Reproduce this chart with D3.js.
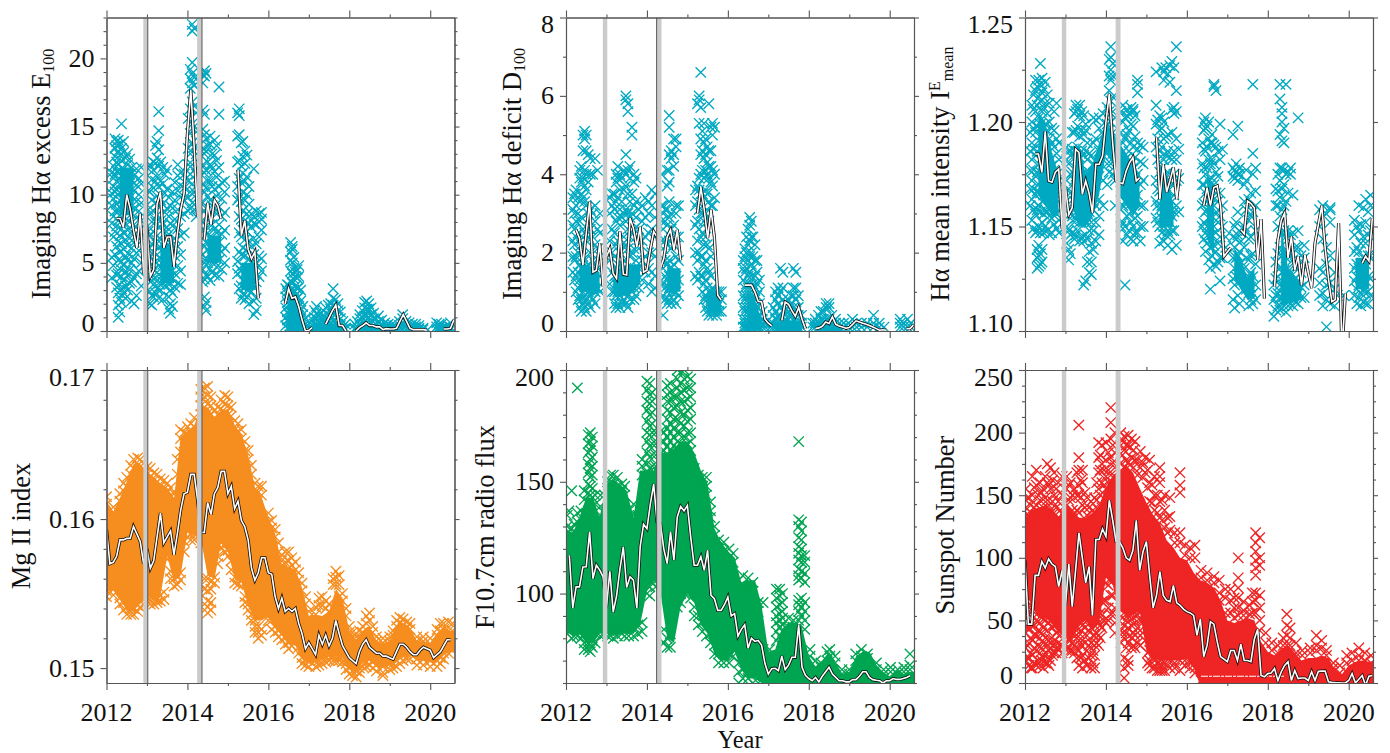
<!DOCTYPE html>
<meta charset="utf-8">
<script src="https://d3js.org/d3.v7.min.js"></script>
<style>
  body { margin: 0; background: #fff; }
  text { font-family: "Liberation Serif", serif; fill: #111; }
</style>
<div id="chart"></div>
<script>

// event windows shown as grey bars
var eventStart = [2012.91, 2014.24], eventEnd = [2013.02, 2014.36];

// band years, every two months from 2012.0 (solid part of the densest clouds)
var bandYears = [2012,2012.17,2012.33,2012.5,2012.67,2012.83,2013,2013.17,2013.33,2013.5,2013.67,2013.83,2014,2014.17,2014.33,2014.5,2014.67,2014.83,2015,2015.17,2015.33,2015.5,2015.67,2015.83,2016,2016.17,2016.33,2016.5,2016.67,2016.83,2017,2017.17,2017.33,2017.5,2017.67,2017.83,2018,2018.17,2018.33,2018.5,2018.67,2018.83,2019,2019.17,2019.33,2019.5,2019.67,2019.83,2020,2020.17,2020.33,2020.5,2020.67];

// monthly means, one value per month from Jan 2012
var excessMonthly = [null,null,null,8.25,8.25,7.6,10,9,7.4,6.1,8.6,4.2,7.6,4,4.5,9.3,10.2,6.1,6.9,6.9,4.7,7.1,8.9,10.1,14.5,17.7,13.5,8.4,null,6.7,9.4,7.8,9.6,9.2,8.25,null,null,null,null,11.8,7,8.1,6,5.3,5.8,2.4,null,null,null,null,null,null,null,2,3.1,2.4,2.5,1.8,.8,0,.05,.25,null,null,null,.5,1,1.5,1.9,.4,.4,0,null,null,0,.25,.4,.6,.4,.4,.3,.3,.1,.17,.15,.15,.2,.7,1.2,.7,.2,.1,.1,.1,.1,.05,null,null,null,null,.15,.15,.2,.8];
var deficitMonthly = [null,null,null,2.58,2.37,1.68,2.5,3.3,1.5,1.55,2.24,1.13,1.9,2.1,1.47,1.34,2.54,1.45,1.43,2.88,2.62,2.15,2.66,1.5,1.55,2.07,2.54,2.4,1.6,1.85,2.4,2.58,2.07,2.58,1.81,null,null,null,null,3,3.67,3.1,2.37,3.1,2.4,.91,.79,null,null,null,null,null,null,1.17,1.17,1.17,1,.76,.74,.3,.2,.13,null,null,.27,.74,.68,.52,.38,.6,.3,.06,null,null,.06,.08,.12,.23,.19,.36,.17,.13,.1,.07,.09,.17,.26,.23,.2,.17,.14,.1,.06,.02,.03,.02,null,null,null,null,null,.06,.06,.15];
var meanMonthly = [null,null,null,1.1847,1.1847,1.1759,1.1955,1.1718,1.1712,1.176,1.1775,1.149,1.1686,1.1557,1.159,1.187,1.1855,1.1654,1.1718,1.166,1.1565,1.1798,1.1798,1.1838,1.2,1.2135,1.19,1.1718,1.171,1.1705,1.1765,1.1805,1.183,1.1718,1.1734,null,null,null,null,1.1927,1.163,1.1798,1.1664,1.172,1.1783,1.163,1.1775,null,null,null,null,null,null,1.16,1.1686,1.16,1.1686,1.1694,1.16,1.1357,1.1378,1.1398,null,null,1.1485,1.1465,1.1622,1.161,1.159,1.134,1.1535,1.1155,null,null,1.1212,1.1436,1.153,1.1565,1.135,1.1453,1.129,1.1357,1.122,1.1365,1.128,1.1205,1.142,1.151,1.16,1.14,1.125,1.114,1.115,1.1517,1.09,1.118,null,null,null,null,1.1325,1.1357,1.1335,1.154];
var mg2Monthly = [.1593,.157,.1571,.1575,.1586,.1586,.1587,.1587,.1595,.159,.1585,.157,.158,.1567,.1572,.1588,.1604,.1584,.1588,.1592,.1576,.159,.1606,.1617,.1618,.163,.163,.1613,.1591,.1591,.1611,.1603,.1617,.1621,.1632,.1632,.1617,.1622,.1607,.1612,.1599,.1595,.1586,.1567,.1559,.1564,.1574,.1574,.1564,.1563,.1548,.154,.1547,.1538,.154,.1538,.154,.153,.1523,.1513,.1517,.1513,.1509,.1522,.1516,.1522,.1515,.152,.1532,.1523,.1515,.1511,.1507,.1505,.1503,.1511,.1516,.1519,.1514,.1512,.151,.151,.1508,.1508,.1507,.1506,.1511,.1516,.1516,.1514,.1511,.1509,.1509,.1512,.1514,.1513,.1512,.1507,.1509,.1511,.1515,.1519,.1519,null];
var fluxMonthly = [null,117,93.5,103,103,111.9,112,127.6,106.7,112.7,110.5,107.5,94,110,91.7,99,111,120.9,102.7,107.5,106,93.5,121,131,129,140,149,132,131.3,120,113.4,127.6,115,134.3,139,137,139.4,125,112.7,112.7,116.5,110.4,119.4,99.2,97.7,92.5,92.5,95,98.5,90,91,81,84,86,75.6,80,78.6,79,77,68.7,64,66.4,66.6,65.5,72,66,68,71.5,71.5,86,67,63.4,62,61,62.5,60.5,63,65,67,64,62.5,61,61,60.5,60.5,61.5,61.5,63,65,65,62.5,61.5,61.2,61,60,61,61,62,61.6,61.6,62,62.5,63.2,null];
var sunspotMonthly = [98,47,47,86,86,97,92,99,95,93,77,90,62,95,61,90,120,100,80,93,54,114.6,114.6,123,117,146,130,113,113,108,100,98,106,130,90,105,113,85,60,70,89,70,66,65,78,64,62,59,57,56,54,38,51,21,30,49,47,33,21,19,17,26,26,18,31,18,18,17,35,43,6,5,7.5,8,11.5,2,9,14,17,2,10,3.5,4,4,2,9,2,9.3,9.5,9.6,1,.5,.3,.2,0,0,2,7.5,0,3,6,-2,5.5,6];

// solid core of the clouds, on bandYears
var excessHigh = [null,null,12,12,12,null,null,null,6.5,6.5,6,null,null,null,null,7,7,7,null,null,5,5,5,null,null,null,null,3,3,1,null,.5,.5,.5,.5,.4,null,null,.5,.5,.4,.4,null,null,null,null,null,null,null,null,null,null,null];
var excessLow = [null,null,8.5,8.5,8.5,null,null,null,3.5,3.5,3.5,null,null,null,null,5,5,5,null,null,3,3,3,null,null,null,null,.1,.1,0,null,0,0,0,0,0,null,null,0,0,0,0,null,null,null,null,null,null,null,null,null,null,null];
var deficitHigh = [null,null,1.7,1.7,1.6,1.5,null,1.6,1.6,1.7,1.7,1.7,null,null,null,1.7,1.6,1.6,null,null,null,1,1,.9,null,null,null,1,.8,.3,null,.25,.25,.25,.25,.25,null,.15,.15,.15,.15,.15,null,null,null,null,null,null,null,null,null,null,null];
var deficitLow = [null,null,1,1,.9,1,null,1,.9,.9,1,1.2,null,null,null,1,1,1,null,null,null,.5,.5,.5,null,null,null,.05,.05,0,null,0,0,0,0,0,null,0,0,0,0,0,null,null,null,null,null,null,null,null,null,null,null];
var meanHigh = [null,null,1.205,1.2,1.185,1.175,null,1.18,1.19,1.175,1.18,1.19,1.2,1.195,1.19,1.185,1.18,1.175,null,null,1.18,1.175,1.16,null,null,null,null,1.175,1.17,null,null,1.14,1.135,1.125,1.13,null,null,null,1.15,1.13,1.125,1.122,null,null,null,null,null,null,null,1.135,1.135,1.135,null];
var meanLow = [null,null,1.165,1.16,1.155,1.155,null,1.16,1.15,1.15,1.155,1.165,1.185,1.18,1.165,1.16,1.155,1.16,null,null,1.15,1.15,1.15,null,null,null,null,1.145,1.135,null,null,1.125,1.12,1.115,1.116,null,null,null,1.112,1.113,1.114,1.115,null,null,null,null,null,null,null,1.12,1.12,1.12,null];
var mg2High = [.1612,.1605,.1614,.1625,.1637,.1637,.1632,.1628,.1624,.1621,.1614,.1655,.1659,.1663,.1675,.1675,.1668,.1672,.1674,.1663,.1657,.1643,.1621,.1615,.1601,.159,.157,.1568,.1566,.1554,.1535,.1536,.1535,.1538,.1553,.1547,.1525,.1518,.1525,.1528,.1518,.1517,.1518,.1529,.153,.1527,.1518,.1518,.1517,.1523,.1527,.1525,.1525];
var mg2Low = [.1551,.1552,.1546,.1539,.1539,.1544,.1548,.1546,.1548,.1575,.1558,.1562,.1591,.1589,.1587,.1562,.156,.1584,.1578,.156,.1558,.1542,.1532,.1532,.1535,.1527,.1522,.1516,.1515,.1506,.1504,.1504,.1506,.1508,.1508,.1507,.1499,.1497,.1504,.1505,.1501,.15,.1502,.1504,.1508,.1509,.1505,.1505,.1504,.1504,.1509,.1511,.1511];
var fluxHigh = [129,127,134,143,143,134,149,151,149,146,134,155,155,155,163,163,165,168,168,163,155,149,129,123,119,116,105,106,106,95,74,75,84,87,87,85,72,67,70,74,69,64,65,72,74,74,68,65,63,66,64,65,65];
var fluxLow = [83,81,82,78,78,82,82,81,82,82,82,86,101,106,101,80,78,94,100,96,86,82,73,70,70,74,66,62,62,60,60,60,60,60,60,60,60,60,60,60,60,60,60,60,60,60,60,60,60,60,60,60,60];
var sunspotHigh = [132,138,140,142,138,132,144,136,132,132,136,142,156,166,170,174,168,156,144,134,128,114,108,100,98,88,82,80,76,66,50,48,50,52,50,33,25,22,27,30,24,18,20,20,22,20,10,7,14,17,18,17,17];
var sunspotLow = [72,62,52,52,48,40,38,36,46,50,42,48,84,78,58,54,54,58,26,20,18,18,18,18,20,12,-2,-2,-2,-2,-2,-2,-2,-2,-2,-2,-2,-2,-2,-2,-2,-2,-2,-2,-2,-2,-2,-2,-2,-2,-2,-2,-2];
// thin pale row in the sunspot panel
var sunspotGapYears = [2016.35, 2018.4], sunspotGapValue = [5.4, 5.4];

// daily values as crosses: [year, value, value, ...]
var excessCrosses = [
[2012.13,3.9,5.4,7.9,9.2,10.1,11.6],[2012.17,4.8,6.9,8.4,9.7,10.6,11.2,12.1],[2012.21,5.6,7.3,8.8,10.2,11.5,12.8,13.4,14.1],[2012.25,3.2,4.1,6.2,7.7,9.3,10.4,11.7,12.4,13.6,13.9],[2012.29,1,1.9,2.8,4.2,5.2,6.6,8.1,8.9,10,11.1,12.2,13.2,14],[2012.33,1.4,2.4,3.4,4.6,5.8,7,8.5,9.6,10.8,11.8,12.9,13.7],[2012.37,2.1,3.1,4,5.1,6.4,7.5,9,10.3,11.4,12.5,13.4,15.2],[2012.42,2.8,3.7,4.8,6,7.2,8.4,9.7,10.9,11.9,13.1,13.9],[2012.47,2.4,3.3,4.4,5.5,6.7,7.9,9.2,10.5,11.6,12.7],[2012.52,3,4.1,5.2,6.3,7.4,8.7,10,11.2,12.2,13],[2012.57,3.5,4.5,5.6,6.8,8,9.3,10.6,11.5,12.6],[2012.62,2.2,3.6,5,6.1,7.3,8.6,9.9,11,12],[2012.68,2,3.9,5.3,6.5,7.8,9,10.3,11.4],[2012.74,2.6,4.2,5.7,7,8.3,9.5,10.7,11.9],[2012.8,4.4,5.9,7.4,8.8,10,11.2],[2012.86,3.3,5,6.6,8.1,9.4,10.8,12],
[2013.03,3.8,4.6,6,7.3,8.9,10.3,11.9],[2013.07,2,2.9,4.1,5.4,7,8.6,10.2,12.2],[2013.12,1.9,2.6,3.7,4.9,6.4,8,9.6,11.1],[2013.16,2.5,3.4,4.5,5.8,7.3,8.8,10.5,11.8,12.4],[2013.21,2.8,3.9,5.1,6.5,8,9.4,11,12.3,13.6],[2013.25,3.1,4.3,5.6,7,8.5,9.9,11.3,12.7,13.9],[2013.29,2.4,3.5,4.8,6.1,7.6,9.2,10.6,12.1,13.3,14.7,16.1],[2013.34,3,4,5.3,6.7,8.1,9.6,11,12.4],[2013.39,2.3,3.6,4.9,6.3,7.8,9.3,10.8,12],[2013.44,3.3,4.5,5.7,7.2,8.7,10.1,11.5],[2013.49,3.7,4.9,6.2,7.6,9,10.4,11.8],[2013.54,1.6,2.5,3.4,4.5,5.8,7.1,8.4,9.8],[2013.58,1.3,2,3,4,5.2,6.5,7.9,9.2],[2013.63,1.8,2.8,3.8,5,6.3,7.7,9,10.2],[2013.69,3.2,4.2,5.5,6.8,8.2,9.6,10.9],[2013.76,3.5,4.8,6.2,7.5,8.9,10.3,11.4,12.2],[2013.83,3.4,4.4,5.6,7,8.4,9.8,10.7,11.6],[2013.92,7.2,8.6,9.6,10.5,11.5],
[2014.02,8.8,9.8,11,12.2,13.4,15.6],[2014.07,9,10.2,11.5,13,14.5,16.3,17.8,18.5,19.2],[2014.12,9.4,10.8,12.2,13.8,15.2,16.8,18.2,18.9,19.7,22,22.5],[2014.17,8.9,10.2,11.8,13.5,15,16.5,18,18.6,22.2],[2014.22,8.4,10,11.5,13,14.6,16],
[2014.38,3.6,4.5,5.6,6.8,8,9.4,10.8,12.2,13.4,14.8,16.2,18.2,18.8],[2014.42,1.8,2.5,3.8,5,6.2,7.4,8.8,10.2,11.6,13,14.4,15.9,18.7,19.1],[2014.46,1.5,2.1,4.1,5.3,6.5,7.7,9,10.5,11.8,13.2,14.1,18.9],[2014.5,4,5,6,7.2,8.5,9.9,11,12.4,13.6],[2014.56,3.7,4.6,5.7,6.9,8.3,9.6,11,12.2,13.7,14.3],[2014.61,4.3,5.4,6.6,7.8,9.2,10.6,11.9,13],[2014.67,4.1,5.1,6.3,7.5,9,10.4,11.7,12.9,14],[2014.72,4.7,5.8,7.2,8.6,9.9,11.3,12.5,13.6],[2014.78,4,5.2,6.5,7.8,9.1,10.6,12,15.9,17.9],[2014.85,4.5,5.8,7.1,8.4,9.7,10.9],[2014.92,5,6.1,7.4,8.7,10.2,11],
[2015.24,4.2,5.1,9.6,10.6,12.4,14.3,16],[2015.28,3.1,4.6,5.8,7.2,8.4,9.8,11.2,12.5,14.4,15.8,16.3],[2015.33,2.4,3.3,4.4,5.6,6.9,8.2,9.5,10.9,12.1,13.8],[2015.37,2.7,3.7,4.8,6.1,7.4,8.8,10.2,11.6,12.8,13.9],[2015.42,2.3,3.2,4.2,5.5,6.7,8.1,9.6,11,12.3,13.2],[2015.47,2.5,3.4,4.6,5.9,7.3,8.6,10,11.3,12.9],[2015.52,2,3,4.1,5.3,6.6,7.9,9.3,10.6],[2015.58,2.9,3.8,5,6.2,7.6,8.6],[2015.64,1.2,2.2,3.2,4.4,5.6,6.8,7.9,8.4,11.9],[2015.7,1.5,2.4,3.6,5,6.4,7.8,8.8],[2015.77,4,4.8,5.5,6.9,8,8.6],[2015.83,4.4,5.3,7.4,8.2,8.7],
[2016.43,.4,1,1.7,2.5,3.1],[2016.47,.2,.8,1.4,2.1,2.9,3.4],[2016.51,.1,.6,1.2,1.9,2.6,3.3],[2016.55,.3,.9,1.5,2.3,3,3.7,4.4,5.2,5.8,6.5],[2016.59,.1,.7,1.3,2,2.7,3.5,4.2,5,6,6.2],[2016.63,.2,.8,1.4,2.2,3,3.8,4.6,5.4],[2016.67,.1,.6,1.2,1.9,2.6,3.3,4,4.3],[2016.71,.1,.5,1,1.7,2.4,3.1,3.9,4.5],[2016.75,.1,.5,1.1,1.8,2.5,3.2,4,4.8],[2016.8,.1,.4,.9,1.5,2.2,3],[2016.85,.1,.3,.7,1.2,1.8],[2016.9,.1,.2,.5,.9],
[2017.02,.1,.2],[2017.1,.1,.4,.8],[2017.14,.1,.5,1,1.5],[2017.19,.1,.4,.9,1.3,1.8],[2017.24,.2,.6,1.1],[2017.3,.1,.5,1,1.3],[2017.36,.1,.6,1,1.5],[2017.42,.1,.5,1,1.7],[2017.48,.2,.7,1.2,1.9],[2017.54,.1,.6,1.1,1.6,2],[2017.6,.2,.7,1.3,1.9,2.4,3.1],[2017.66,.1,.6,1.2,1.8,2.3],[2017.72,.1,.5,1,1.5,2],[2017.78,.1,.4,.9,1.4],[2017.84,.1,.3,.7],[2017.9,.1,.2,.5],
[2018.14,.1,.2,.5],[2018.2,.1,.3,.7],[2018.26,.1,.4,.9,1.2],[2018.32,.1,.5,1,1.5],[2018.38,.1,.5,1.1,1.7,2.1],[2018.43,.2,.6,1.1,1.6,2.2],[2018.48,.1,.5,1,1.6,2],[2018.54,.2,.6,1.2,1.7],[2018.6,.1,.4,.9,1.3],[2018.66,.1,.5,.9],[2018.72,.1,.3,.7,1.1],[2018.8,.1,.4,.8],[2018.88,.1,.3,.6],[2018.96,.1,.2,.5],[2019.06,.1,.3,.5],[2019.14,.1,.2,.4],[2019.24,.1,.4,.7],[2019.32,.1,.5,.9,1.2],[2019.4,.1,.4,.7],[2019.48,.1,.3,.6],[2019.56,.1,.2,.5],[2019.64,.1,.3,.5],[2019.72,.1,.2,.4],[2019.82,.1,.2],[2019.94,.1],
[2020.16,.1,.3,.6],[2020.22,.1,.3,.5],[2020.28,.1,.2,.5],[2020.36,.1,.3],[2020.44,.1,.2,.4],[2020.5,.1,.3,.6]];

var deficitCrosses = [
[2012.17,1.5,1.9,2.3,2.7,3.1,3.4],[2012.21,1.3,1.8,2.2,2.6,3,3.5],[2012.25,1,1.4,1.9,2.4,2.8,3.2,3.6],[2012.3,.8,1.1,1.5,2,2.5,3,3.4],[2012.34,.6,.9,1.3,1.7,2.3,2.8,3.3,3.9,4.1],[2012.38,.5,.8,1.2,1.6,2.2,2.9,3.5,3.8,4.2],[2012.42,.7,1,1.4,1.9,2.6,3.4,3.9,4.6,5],[2012.46,.6,.9,1.3,1.8,2.5,3.3,3.7,4.1,4.9,5.1],[2012.5,.5,.8,1.1,1.6,2.3,3.2,3.6,4,4.6,5],[2012.55,.7,1,1.3,1.7,2.4,3,3.8,4.5],[2012.6,.6,.9,1.2,1.5,2,2.6,3.1,4,4.4],[2012.66,.8,1.1,1.4,1.8,2.4,3,4],[2012.72,.7,1,1.3,1.7,2.2,2.8,3.2,4.4],[2012.78,1.1,1.6,2.1,2.6,4.1],[2012.84,1,1.4,1.9,2.5,3],
[2013.08,1.2,1.8,2.3,3,3.4],[2013.14,1,1.5,2,2.6,3.2,3.5],[2013.2,.7,1,1.4,1.9,2.5,3.1,3.5],[2013.24,.6,.9,1.2,1.6,2.2,2.8,3.3,3.8,4],[2013.28,.7,1,1.3,1.7,2.3,2.9,3.4,3.9,4.2],[2013.33,.6,.9,1.2,1.5,2,2.7,3.1,3.6,4],[2013.38,.7,1,1.3,1.7,2.2,2.9,3.3,3.9],[2013.43,.8,1.1,1.4,1.8,2.4,3,3.6,4.1],[2013.48,.7,1,1.3,1.6,2.2,2.8,3.1,3.7,4,4.5,5.9,6],[2013.53,.6,.9,1.2,1.5,2.1,2.6,3,3.5,4.1,5.8,5.6],[2013.58,.8,1.1,1.4,1.9,2.4,2.9,3.3,3.9,4.2],[2013.63,1,1.5,2,2.5,3,3.5,5.2,5],[2013.68,.8,1.1,1.5,2.1,2.6,3.2,3.8,4],[2013.73,.9,1.3,1.8,2.4,2.9,3.3,3.9],[2013.8,1.1,1.6,2.1,2.6,3.1],[2013.88,1.3,1.8,2.3,2.8,3.2],[2013.96,1.5,1.9,2.4,2.9,3.4],[2014.04,1.2,1.6,2,2.5,3,3.3],[2014.12,1,1.5,2,2.6,3.2,3.6],[2014.2,1.1,1.4,1.9,2.4,2.9,3.5],
[2014.36,1.3,1.8,2.3,2.8,3.2,4],[2014.4,.9,1.2,1.6,2.1,2.6,3,3.2,.4],[2014.45,.8,1.1,1.4,1.8,2.3,2.8,3.1],[2014.5,.7,1,1.3,1.7,2.2,2.7,3.1,3.7,4.1],[2014.55,.8,1.1,1.4,1.8,2.3,2.9,3.3,3.8,4.1,4.5,5.2,5.5],[2014.6,.7,1,1.3,1.6,2.1,2.6,3,4.6,4.4],[2014.66,.8,1,1.3,1.7,2.2,2.7,4.2,4.5,4.9],[2014.72,.7,1,1.4,1.9,2.4,3,3.2,4.7,4.9],[2014.78,.9,1.3,1.8,2.4,3.2],
[2015.2,1.4,2,2.7,3.2,3.6],[2015.25,1.3,1.8,2.3,2.8,3.3,3.7,5.8],[2015.29,1.5,2,2.6,3.1,3.6,3.9,5.3,5.9,6],[2015.33,1.4,1.9,2.4,3,3.5,4,4.5,4.9,5.7,6.6],[2015.37,1,1.4,1.9,2.5,3,3.5,4.1,4.6,5.1],[2015.41,.8,1.2,1.7,2.2,2.8,3.4,3.9,4.4,4.8,5.3],[2015.45,.6,.9,1.3,1.8,2.4,3,3.6,4.1,4.5,4.9],[2015.49,.5,.8,1.1,1.6,2.2,2.9,3.5,4,4.3,4.7],[2015.53,.4,.7,1,1.5,2.1,2.8,3.3,3.9,4.2,4.6,5.8],[2015.58,.5,.8,1,1.4,1.9,3.2,3.8,4.2,4.6,5.2],[2015.62,.4,.6,.9,1.1,3.2,3.7,4.1,5,5.3],[2015.67,.5,.8,1,3.4,4,5.2],[2015.72,.4,.6,.9,1,.5],[2015.78,.5,.7,1],[2015.84,.5,.8,1],
[2016.38,.1,.3,.6,.9,1.3,1.6,1.8],[2016.42,.1,.2,.5,.8,1.1,1.5,1.9,2.1],[2016.46,.1,.3,.6,.9,1.2,1.6,2,2.4],[2016.5,.1,.2,.5,.8,1.1,1.4,1.8,2.2,2.6],[2016.54,.1,.3,.6,.9,1.2,1.5,1.9,2.3,2.7,2.9],[2016.58,.1,.2,.5,.8,1.1,1.4,1.7,2,2.4,2.8],[2016.62,.1,.3,.6,.9,1.2,1.6,1.9,2.4],[2016.67,.1,.2,.5,.8,1.1,1.4,1.8,2.2],[2016.72,.1,.3,.6,.9,1.2,1.5,1.8],[2016.78,.1,.2,.4,.7,1,1.3],[2016.85,.1,.2,.3,.5],[2016.92,.1,.2],
[2017.06,.1,.2],[2017.12,.1,.2,.4,.6],[2017.18,.1,.3,.5,.8,1],[2017.24,.1,.4,.7,.9,1.1],[2017.3,.1,.3,.6,1,1.6],[2017.36,.1,.2,.5,.8,1.1,1.5],[2017.42,.1,.3,.5,.7],[2017.5,.1,.3,.5,.8],[2017.56,.1,.2,.4,.7,.9],[2017.62,.1,.3,.6,.9,1.1,1.6],[2017.68,.1,.2,.5,.8,1.1,1.5],[2017.74,.1,.2,.4,.6,.9],[2017.82,.1,.2,.4],[2018.1,.1,.2],[2018.16,.1,.2,.3],[2018.24,.1,.2,.4],[2018.3,.1,.3,.5],[2018.36,.1,.3,.5],[2018.43,.1,.3,.6,.7],[2018.5,.1,.3,.6,.7],[2018.57,.1,.2,.4],[2018.66,.1,.2,.3],[2018.76,.1,.2],[2018.86,.1,.2],[2018.98,.1,.2],[2019.08,.1,.3],[2019.18,.1,.2],[2019.3,.1,.2],[2019.44,.1,.2],[2019.6,.1,.2,.4],[2019.74,.1,.2],[2019.86,.1],[2020.26,.1,.2,.3],[2020.34,.1,.2],[2020.44,.1,.3],[2020.52,.1,.2]];

// thousandths for the mean intensity panel
var meanCrosses = [
[2012.13,1160,1168,1177,1186,1195],[2012.17,1153,1163,1172,1182,1190,1200,1208],[2012.21,1149,1158,1168,1177,1187,1197,1206,1213],[2012.26,1147,1156,1165,1174,1184,1195,1205,1215,1220],[2012.3,1130,1135,1139,1148,1158,1167,1176,1186,1198,1208,1217],[2012.34,1131,1136,1141,1150,1160,1170,1180,1191,1202,1212,1220],[2012.38,1132,1137,1147,1157,1166,1176,1187,1199,1210,1218,1228],[2012.42,1133,1139,1152,1162,1172,1183,1194,1205,1214,1221],[2012.46,1147,1156,1165,1175,1186,1197,1207,1216],[2012.5,1150,1158,1167,1178,1188,1199,1209,1219],[2012.55,1148,1157,1165,1176,1187,1196,1204,1213],[2012.6,1146,1155,1163,1172,1181,1192,1200,1209],[2012.66,1147,1154,1162,1170,1179,1190,1197],[2012.72,1151,1160,1168,1177,1188,1196,1205],[2012.78,1149,1156,1165,1175,1185,1192,1209],[2012.84,1147,1153,1162,1172,1182,1190],
[2013.03,1142,1150,1160,1172,1182,1188],[2013.08,1134,1139,1148,1158,1168,1180,1186],[2013.12,1137,1146,1156,1166,1175,1184],[2013.17,1147,1155,1165,1176,1187,1195],[2013.22,1144,1152,1162,1172,1184,1195,1204],[2013.26,1146,1154,1164,1174,1186,1196,1205,1208],[2013.3,1148,1156,1166,1177,1188,1198,1206],[2013.35,1143,1152,1162,1172,1183,1193,1203,1208],[2013.4,1145,1154,1164,1175,1186,1196,1205],[2013.45,1122,1143,1153,1163,1174,1184,1194,1203],[2013.5,1124,1146,1155,1165,1176,1186,1196,1199],[2013.54,1133,1144,1152,1161,1171,1182,1190],[2013.59,1128,1138,1148,1157,1166,1176,1185],[2013.64,1127,1133,1142,1152,1162,1172,1184],[2013.69,1139,1148,1158,1168,1180,1190,1202],[2013.75,1143,1152,1160,1170,1181,1192,1201],[2013.83,1146,1155,1163,1174,1186,1197,1202],[2013.93,1160,1172,1184,1194,1204],
[2014.03,1170,1180,1190,1199,1207],[2014.08,1176,1186,1196,1205,1215,1222,1230],[2014.12,1180,1190,1200,1210,1220,1225,1231,1236],[2014.17,1175,1185,1195,1205,1212,1222,1228],[2014.23,1160,1172,1182,1192,1202],
[2014.37,1150,1158,1167,1175,1185,1195,1205],[2014.42,1143,1152,1160,1170,1180,1190,1200,1208],[2014.47,1122,1150,1162,1172,1182,1192,1202],[2014.52,1146,1155,1163,1172,1183,1194,1203,1206],[2014.57,1148,1156,1165,1176,1186,1196,1204],[2014.62,1144,1152,1161,1170,1180,1190,1199,1207],[2014.67,1143,1150,1158,1168,1178,1188,1198,1205,1206],[2014.72,1147,1154,1163,1173,1183,1193,1203],[2014.78,1147,1155,1165,1175,1187,1190,1218,1214,1220],[2014.85,1143,1150,1160,1170,1181,1189],[2014.92,1150,1160,1172,1180,1188],
[2015.24,1154,1162,1172,1188,1199,1208,1224],[2015.28,1152,1160,1168,1182,1192,1201],[2015.33,1142,1150,1158,1167,1176,1186,1196,1203],[2015.38,1147,1154,1160,1168,1178,1188,1197,1202,1226],[2015.43,1143,1150,1156,1163,1172,1182,1192,1200,1220,1224],[2015.48,1146,1152,1158,1165,1174,1184,1193,1226],[2015.53,1141,1148,1154,1160,1167,1176,1186,1194,1223],[2015.58,1146,1152,1157,1163,1172,1183,1219,1227],[2015.63,1139,1148,1155,1162,1170,1182,1195,1206,1229],[2015.68,1148,1157,1165,1175,1186,1204,1207,1226],[2015.74,1141,1160,1172,1182,1192,1205,1215,1236],[2015.8,1157,1173,1187],
[2016.38,1150,1160,1170,1180,1190],[2016.42,1144,1152,1161,1170,1178,1187,1196,1200],[2016.46,1138,1147,1157,1166,1175,1186,1197,1202],[2016.5,1142,1150,1158,1168,1178,1188,1198],[2016.54,1134,1145,1154,1163,1172,1182,1192,1200],[2016.58,1120,1130,1140,1150,1160,1170,1180,1190],[2016.62,1136,1146,1155,1164,1173,1182,1190,1194],[2016.67,1132,1141,1150,1160,1170,1180,1189,1217,1218],[2016.72,1131,1138,1147,1156,1166,1176,1188,1215],[2016.77,1133,1142,1152,1162,1174,1186],[2016.82,1124,1135,1145,1155,1166,1182,1199],[2016.88,1135,1150,1160,1187],[2016.96,1140,1145],
[2017.14,1115,1125,1135,1145,1174,1178,1194],[2017.18,1111,1122,1130,1140,1150,1173,1177],[2017.22,1126,1135,1144,1152,1176,1180],[2017.26,1117,1127,1136,1146,1157,1172,1175,1198],[2017.3,1113,1128,1138,1148,1178,1175],[2017.34,1124,1133,1143],[2017.42,1130,1140,1150,1162,1170],[2017.47,1120,1135,1148,1158,1172,1177],[2017.53,1112,1118,1126,1134,1144,1153,1163],[2017.58,1115,1121,1128,1136,1145,1155,1166],[2017.63,1113,1118,1126,1137,1157,1175,1185,1218],[2017.7,1115,1122,1132,1148,1160,1167,1178],
[2018.15,1107,1115,1122],[2018.2,1110,1117,1125,1133,1160,1168],[2018.25,1112,1118,1126,1137,1150,1160,1167,1175],[2018.3,1110,1116,1122,1130,1140,1155,1164,1172,1178,1194,1218,1211],[2018.35,1111,1116,1121,1128,1136,1146,1158,1168,1178,1191,1200,1204,1207],[2018.4,1112,1117,1122,1129,1137,1148,1160,1170,1177,1197,1190],[2018.45,1109,1115,1120,1127,1135,1145,1162,1175,1218],[2018.5,1112,1117,1123,1130,1138,1148,1166,1176],[2018.56,1113,1117,1122,1128,1136,1146,1175,1178],[2018.62,1112,1116,1121,1127,1134,1147,1165],[2018.68,1114,1119,1125,1132,1140],[2018.75,1113,1118,1124,1131,1140,1148,1202],[2018.82,1116,1121,1128,1136],[2018.9,1116,1122,1135,1141],
[2019.28,1117,1123,1130,1150,1158],[2019.36,1112,1118,1128,1144,1160],[2019.45,1102,1115,1122,1132,1140,1156],[2019.54,1113,1123,1136,1152,1158,1159],[2019.65,1112,1120,1128],[2019.72,1117],[2019.88,1117],
[2020.14,1117,1124,1130,1138,1146,1153],[2020.2,1113,1120,1126,1132,1140,1150],[2020.25,1116,1122,1130,1138,1148,1160],[2020.3,1112,1118,1125,1132,1142,1151],[2020.36,1114,1120,1127,1135,1145,1159],[2020.42,1113,1118,1124,1132,1142,1152,1163],[2020.48,1113,1119,1126,1136,1146,1157],[2020.54,1117,1125,1136,1148,1160,1165]];

// Mg II in units of 1e-4, edges of the cloud around the solid core
var mg2Crosses = [
[2012,1615,1610,1552,1548],[2012.17,1608,1604,1553,1549],[2012.33,1617,1612,1547,1543],[2012.42,1624,1619,1544,1539],[2012.5,1628,1622,1541,1536],[2012.6,1636,1630,1540,1536],[2012.67,1640,1634,1540,1536],[2012.77,1641,1636,1542,1538],[2012.83,1640,1635,1545,1541],[2013,1635,1630,1548,1545],[2013.08,1634,1628,1546,1543],[2013.17,1631,1626,1547,1543],[2013.25,1630,1625,1546,1544],[2013.33,1627,1622,1549,1545],[2013.42,1626,1620,1551,1546],[2013.5,1624,1618,1577,1573],[2013.58,1621,1616,1565,1560],[2013.67,1617,1612,1560,1555],[2013.75,1640,1630,1562,1556],[2013.83,1660,1654,1645,1564,1559],[2013.92,1658,1651,1585,1578],[2014,1662,1657,1592,1588],[2014.08,1664,1658,1590,1586],[2014.17,1668,1662,1590,1586],[2014.33,1687,1682,1676,1670,1588,1584],[2014.42,1688,1682,1675,1669,1560,1553],[2014.5,1689,1683,1677,1671,1560,1552,1545,1541,1537],[2014.58,1682,1676,1670,1558,1553,1544,1539],[2014.67,1673,1668,1561,1557],[2014.75,1675,1670,1575,1570],[2014.83,1680,1674,1669,1585,1581],[2014.92,1683,1677,1671,1582,1578],[2015,1682,1676,1670,1579,1575],[2015.08,1675,1669,1572,1566],[2015.17,1666,1660,1561,1557],[2015.25,1664,1659,1561,1556],[2015.33,1660,1654,1559,1555],[2015.42,1652,1646,1548,1544],[2015.5,1646,1640,1543,1539],[2015.58,1636,1630,1536,1532],[2015.67,1624,1618,1532,1528,1524],[2015.75,1622,1618,1528,1524,1520],[2015.83,1622,1616,1526,1522],[2016,1604,1598,1535,1532],[2016.08,1599,1594,1532,1526],[2016.17,1593,1588,1528,1524],[2016.25,1584,1578,1525,1521],[2016.33,1576,1572,1523,1519],[2016.42,1578,1571,1520,1516],[2016.5,1578,1572,1517,1513],[2016.58,1574,1569,1519,1515],[2016.67,1571,1566,1523,1519],[2016.75,1564,1559,1514,1510],[2016.83,1557,1552,1507,1503],[2016.92,1548,1543,1506,1502],[2017,1538,1534,1505,1501],[2017.17,1541,1536,1505,1501],[2017.25,1547,1542,1505,1502],[2017.33,1548,1542,1507,1503],[2017.42,1545,1540,1508,1504],[2017.5,1543,1538,1509,1505],[2017.6,1560,1556,1508,1505],[2017.67,1565,1561,1556,1509,1505],[2017.75,1562,1556,1548,1508,1505],[2017.83,1550,1545,1508,1504],[2017.92,1540,1535,1503,1499],[2018,1528,1524,1500,1496],[2018.08,1524,1521,1498,1495],[2018.17,1521,1518,1498,1494],[2018.25,1525,1521,1500,1497],[2018.33,1528,1524,1505,1501],[2018.42,1535,1530,1504,1501],[2018.5,1537,1532,1506,1502],[2018.58,1528,1524,1504,1500],[2018.67,1521,1518,1502,1498],[2018.83,1520,1517,1501,1497,1495],[2019,1521,1518,1503,1499],[2019.08,1525,1522,1503,1500],[2019.17,1532,1528,1505,1501],[2019.25,1534,1530,1507,1503],[2019.33,1533,1529,1509,1505],[2019.42,1531,1527,1510,1506],[2019.5,1530,1526,1510,1506],[2019.67,1521,1518,1506,1502],[2019.83,1521,1518,1506,1502],[2020,1520,1516,1505,1501],[2020.17,1526,1522,1505,1501],[2020.25,1530,1525,1507,1503],[2020.33,1530,1526,1510,1506],[2020.45,1531,1525,1514,1510],[2020.55,1530,1525,1516,1512]];

var fluxCrosses = [
[2012.03,130,127,135,82],[2012.07,137,87,83],[2012.14,146,129,126,80,84],[2012.2,131,128,81,85],[2012.28,192,136,132,81,84],[2012.37,137,133,80,84],[2012.45,146,142,78,82,75],[2012.55,171,167,163,158,154,149,145,141,75,78],[2012.6,172,168,164,160,156,152,148,144,74,77],[2012.65,170,166,161,157,153,147,143,76,79],[2012.72,144,140,78,82],[2012.85,144,139,135,81,85],[2012.95,144,136,82],[2013.03,150,147,81,84],[2013.1,153,150,147,81,85],[2013.17,153,149,80,84],[2013.27,152,148,81,85],[2013.38,149,146,82,85],[2013.45,148,144,81,84],[2013.55,137,133,81,85],[2013.67,140,136,132,81,85],[2013.78,135,131,82,86],[2013.88,160,157,153,83,87],[2014,195,191,186,182,177,172,168,163,158,154,100,104],[2014.07,194,189,185,180,175,171,166,161,156,152,99,103],[2014.13,190,186,181,176,172,167,162,157,152,105,108],[2014.22,172,167,162,157,103,107],[2014.36,173,168,163,100,104],[2014.42,172,168,164,160,156,78,84],[2014.5,193,189,186,182,178,174,170,166,162,76,80],[2014.58,194,190,186,181,176,172,168,164,160,76,82],[2014.66,188,183,178,174,170,166,162,94,98],[2014.75,200,196,192,188,184,178,172,168,94,97],[2014.83,199,194,190,186,181,176,172,167,96,100],[2014.92,200,196,191,186,180,175,170,165,100,103],[2015,197,192,187,182,177,172,167,102,105],[2015.08,196,192,188,183,178,172,168,164,98,102],[2015.17,156,152,90,94],[2015.27,153,149,86,90],[2015.37,152,148,145,83,87],[2015.47,152,148,144,81,85],[2015.57,141,137,134,78,82],[2015.67,130,126,73,77],[2015.77,124,120,69,73],[2015.9,123,119,69,73],[2016.03,120,116,69,73],[2016.13,118,114,72,76],[2016.27,106,102,60,65,69],[2016.37,108,104,62,66],[2016.5,107,103,62,65],[2016.62,105,101,60,64],[2016.75,96,92,60],[2016.87,96,75,72],[2017.03,75,72],[2017.2,102,98,94,90,87,83,79],[2017.28,102,99,95,91,88,85,81],[2017.35,100,96,92,89,86,83],[2017.5,89,85],[2017.62,88,85],[2017.75,168,133,130,125,121,118,115,111,108,106,97,95,92,88],[2017.82,132,128,124,120,117,114,110,107,98,94,90],[2017.9,117,114,109,105,96,92,88,84],[2018.03,75,72],[2018.17,70,67],[2018.3,69,67],[2018.45,74,70],[2018.52,75,72],[2018.65,72,69],[2018.82,66,64],[2019,66,64],[2019.16,73,70],[2019.3,75,72],[2019.45,73,71],[2019.67,69,66],[2019.85,66,64],[2020.02,67,65],[2020.2,66,64],[2020.35,67,65],[2020.5,73,68,66]];

var sunspotCrosses = [
[2012.02,155,140,128,80,66,52,40,28,18],[2012.06,148,135,70,56,44,30,20],[2012.1,148,132,122,74,60,44,32,20,14],[2012.14,142,126,62,48,36,24,12],[2012.18,165,150,135,70,58,45,34,22,12],[2012.23,156,140,60,46,38,28,16],[2012.28,170,158,142,130,64,50,38,26,14],[2012.33,150,136,56,42,30,18],[2012.37,160,146,132,62,48,36,24,14],[2012.41,152,138,52,40,28,18],[2012.45,155,140,58,44,32,20,12],[2012.5,165,148,50,36,24,16],[2012.55,175,160,146,134,54,42,30,20,16],[2012.59,158,142,48,34,26,14],[2012.63,172,155,138,50,35,28,18],[2012.68,162,145,44,30,22],[2012.72,168,150,136,46,34,24],[2012.77,155,140,40,28,24],[2012.82,160,145,130,42,32,28],[2012.87,152,138,38,30],[2012.92,165,150,135,44,30,24],
[2013.03,165,155,142,132,38,28,26],[2013.08,158,146,34,28],[2013.12,160,148,130,36,26,34],[2013.17,150,138,32,26],[2013.22,155,135,40,30,24],[2013.28,168,150,138,44,36,28,20],[2013.33,206,180,170,158,150,136,124,50,40,34,26,14],[2013.38,162,148,42,30,20],[2013.42,170,160,142,128,46,34,22,12],[2013.48,152,140,44,32,18],[2013.53,148,134,122,50,38,26,14],[2013.58,140,128,42,30,20],[2013.63,145,130,44,32,22,12],[2013.68,138,128,38,26,16],[2013.72,148,136,46,38,30,22,12],[2013.77,160,146,52,40,32],[2013.82,192,180,168,155,138,60,48,38,30],[2013.86,182,170,150,56,46,36],[2013.9,190,175,160,140,65,54,44],[2013.95,170,158,66,50],[2014,192,178,165,155,80,66,48],[2014.06,184,170,160,78,60,50],[2014.12,220,208,195,180,166,82,70,55],[2014.17,190,176,160,70,56],[2014.22,200,184,172,60,48,40],[2014.37,200,190,176,60,42,32],[2014.41,194,182,52,40],[2014.45,197,186,172,56,46,36,20,12,4],[2014.5,190,178,50,40,28],[2014.55,198,190,176,54,44,32,18,14],[2014.59,188,174,50,38],[2014.63,195,180,56,46,36,28],[2014.68,186,172,52,40,30],[2014.72,193,178,60,48,38,28],[2014.78,178,166,54,44,32],[2014.85,185,172,58,50,38,30],[2014.91,176,164,50,40],[2014.97,180,168,56,46,34],
[2015.03,170,156,24,16],[2015.08,178,160,145,26,18,14],[2015.14,158,144,22,12],[2015.2,165,150,138,18,12,20],[2015.27,150,136,16,10],[2015.33,172,165,160,145,132,14,10,18],[2015.39,146,130,14,10],[2015.45,150,138,124,16,10],[2015.52,132,120,14],[2015.58,148,133,122,18,12],[2015.7,120,112,16,12],[2015.83,168,158,152,120,112,18,10],[2015.95,110,102,18,14],[2016.08,108,100,16,12],[2016.2,110,100,12,8],[2016.35,90,84,2],[2016.5,88,82],[2016.67,85,80],[2016.8,82,72,66],[2016.95,75,68,56],[2017.08,75,66,56],[2017.17,68,60,52],[2017.27,100,84,76,68,60,54],[2017.4,65,58,54],[2017.55,62,55],[2017.62,72,65,56],[2017.7,120,112,105,98,92,86,72,66,56],[2017.8,116,100,94,70,60,50,42],[2017.95,40,32],[2018.1,32,26],[2018.25,30,24],[2018.38,36,30],[2018.47,55,46,38,30],[2018.55,44,36,30],[2018.7,32,24],[2018.85,26,22],[2019.05,28,24],[2019.2,38,30,26],[2019.33,34,28],[2019.45,26,22],[2019.62,16,12],[2019.78,14,8],[2019.95,22,16],[2020.08,24,18],[2020.25,28,22,18],[2020.4,24,18],[2020.55,22,16]];

// tick lists
var xMajor = [2012, 2014, 2016, 2018, 2020], xMinor = [2013, 2015, 2017, 2019];

var colors = {teal: "#00a9c2", orange: "#f68d1f", green: "#00a551", red: "#ee2524"};

var panels = [
  {x0: 106.5, y0: 17.5, h: 313.5, domain: [0, 23], major: [0,5,10,15,20], minorStep: 1, fmt: d3.format("d"), color: colors.teal, crosses: excessCrosses, unit: 1, monthly: excessMonthly, high: excessHigh, low: excessLow, dark: "end",
   title: [["Imaging H\u03b1 excess E"], ["100", "sub"]], titleX: 50, titleY: 174},
  {x0: 566, y0: 17.5, h: 313.5, domain: [0, 8], major: [0,2,4,6,8], minorStep: 1, fmt: d3.format("d"), color: colors.teal, crosses: deficitCrosses, unit: 1, monthly: deficitMonthly, high: deficitHigh, low: deficitLow, dark: "start",
   title: [["Imaging H\u03b1 deficit D"], ["100", "sub"]], titleX: 521, titleY: 174},
  {x0: 1025, y0: 17.5, h: 313.5, domain: [1.1, 1.25], major: [1.1,1.15,1.2,1.25], minorStep: .025, fmt: d3.format(".2f"), color: colors.teal, crosses: meanCrosses, unit: .001, monthly: meanMonthly, high: meanHigh, low: meanLow, dark: null,
   title: [["H\u03b1 mean intensity I"], ["E", "sup"], ["mean", "sub"]], titleX: 949, titleY: 174},
  {x0: 106.5, y0: 370, h: 313, domain: [.149, .17], major: [.15,.16,.17], minorStep: .002, minorFrom: .15, fmt: d3.format(".2f"), color: colors.orange, crosses: mg2Crosses, unit: .0001, monthly: mg2Monthly, high: mg2High, low: mg2Low, dark: "end",
   title: [["Mg II index"]], titleX: 30, titleY: 526},
  {x0: 566, y0: 370, h: 313, domain: [60, 200], major: [100,150,200], minorStep: 10, fmt: d3.format("d"), color: colors.green, crosses: fluxCrosses, unit: 1, monthly: fluxMonthly, high: fluxHigh, low: fluxLow, dark: "start",
   title: [["F10.7cm radio flux"]], titleX: 494, titleY: 527},
  {x0: 1025, y0: 370, h: 313, domain: [0, 250], major: [0,50,100,150,200,250], minorStep: 12.5, fmt: d3.format("d"), color: colors.red, crosses: sunspotCrosses, unit: 1, monthly: sunspotMonthly, high: sunspotHigh, low: sunspotLow, dark: null, gap: true,
   title: [["Sunspot Number"]], titleX: 954, titleY: 525}
];

var plotW = 348;

var svg = d3.select("#chart").append("svg")
  .attr("width", 1390)
  .attr("height", 753)
  .style("display", "block");

var cross = d3.symbol().type(d3.symbolTimes).size(72);

panels.forEach(function(p, n) {
  var x = d3.scaleLinear().domain([2012, 2020.6]).range([0, plotW]);
  var y = d3.scaleLinear().domain(p.domain).range([p.h, 0]);

  var g = svg.append("g").attr("transform", "translate(" + p.x0 + "," + p.y0 + ")");

  svg.append("clipPath").attr("id", "clip" + n)
    .append("rect").attr("width", plotW).attr("height", p.h);

  var plot = g.append("g").attr("clip-path", "url(#clip" + n + ")");

  // solid core of the cloud
  var area = d3.area()
    .defined(function(d) { return d !== null; })
    .x(function(d, i) { return x(bandYears[i]); })
    .y0(function(d, i) { return y(p.low[i]); })
    .y1(function(d) { return y(d); });
  plot.append("path").attr("d", area(p.high)).attr("fill", p.color);

  // the crosses
  var points = [];
  p.crosses.forEach(function(col) {
    col.slice(1).forEach(function(v) { points.push([col[0], v * p.unit]); });
  });
  plot.selectAll("path.cross")
    .data(points)
    .enter()
    .append("path")
      .attr("class", "cross")
      .attr("d", cross)
      .attr("transform", function(d) { return "translate(" + x(d[0]) + "," + y(d[1]) + ")"; })
      .attr("fill", "none")
      .attr("stroke", p.color)
      .attr("stroke-width", 1.35);

  if (p.gap) {
    plot.append("line")
      .attr("x1", x(sunspotGapYears[0])).attr("x2", x(sunspotGapYears[1]))
      .attr("y1", y(sunspotGapValue[0])).attr("y2", y(sunspotGapValue[1]))
      .attr("stroke", "#fff").attr("stroke-width", 1).attr("stroke-dasharray", "7 1 3 1");
  }

  // monthly mean, black with a white core
  var line = d3.line()
    .defined(function(d) { return d !== null; })
    .x(function(d, i) { return x(2012 + i / 12); })
    .y(function(d) { return y(d); });
  plot.append("path").attr("d", line(p.monthly)).attr("fill", "none").attr("stroke", "#111").attr("stroke-width", 3.2);
  plot.append("path").attr("d", line(p.monthly)).attr("fill", "none").attr("stroke", "#fff").attr("stroke-width", 1.6);

  // event bars sit on top of everything
  eventStart.forEach(function(s, i) {
    plot.append("rect")
      .attr("x", x(s)).attr("y", 0)
      .attr("width", x(eventEnd[i]) - x(s)).attr("height", p.h)
      .attr("fill", "#cbcbcb");
  });
  if (p.dark == "end") {
    eventEnd.forEach(function(v) {
      plot.append("line").attr("x1", x(v)).attr("x2", x(v)).attr("y1", 0).attr("y2", p.h).attr("stroke", "#555").attr("stroke-width", 1);
    });
  }
  if (p.dark == "start") {
    plot.append("line").attr("x1", x(eventStart[1])).attr("x2", x(eventStart[1])).attr("y1", 0).attr("y2", p.h).attr("stroke", "#555").attr("stroke-width", 1);
  }

  // frame and ticks on all four sides
  var from = p.minorFrom !== undefined ? p.minorFrom : p.domain[0];
  var yMinor = d3.range(from, p.domain[1] + p.minorStep / 2, p.minorStep).filter(function(v) {
    return !p.major.some(function(m) { return Math.abs(m - v) < 1e-6; });
  });

  function side(axis, values, size, tx, ty) {
    var a = g.append("g").attr("transform", "translate(" + tx + "," + ty + ")")
      .call(axis.tickValues(values).tickSize(size).tickSizeOuter(0).tickFormat(""));
    a.selectAll("path, line").attr("stroke", "#555").attr("stroke-width", 1.1);
    return a;
  }
  side(d3.axisLeft(y), p.major, 6, 0, 0);
  side(d3.axisLeft(y), yMinor, 3, 0, 0);
  side(d3.axisRight(y), p.major, 5, plotW, 0);
  side(d3.axisRight(y), yMinor, 3, plotW, 0);
  side(d3.axisBottom(x), xMajor, 7, 0, p.h);
  side(d3.axisBottom(x), xMinor, 3, 0, p.h);
  side(d3.axisTop(x), xMajor, 7, 0, 0);
  side(d3.axisTop(x), xMinor, 3, 0, 0);

  // y tick labels, the ones at the ends are pushed inside
  g.selectAll("text.ylab")
    .data(p.major)
    .enter()
    .append("text")
      .attr("class", "ylab")
      .attr("x", -12)
      .attr("y", function(d) {
        var shift = d == p.domain[1] ? 7 : (d == p.domain[0] ? -8 : 0);
        return y(d) + shift + 8.5;
      })
      .attr("text-anchor", "end")
      .attr("font-size", "26px")
      .text(p.fmt);

  if (n >= 3) {
    g.selectAll("text.xlab")
      .data(xMajor)
      .enter()
      .append("text")
        .attr("class", "xlab")
        .attr("x", function(d) { return x(d); })
        .attr("y", p.h + 37.5)
        .attr("text-anchor", "middle")
        .attr("font-size", "26px")
        .text(d3.format("d"));
  }

  // y title with sub and superscripts
  var t = svg.append("text")
    .attr("transform", "translate(" + p.titleX + "," + p.titleY + ") rotate(-90)")
    .attr("text-anchor", "middle")
    .attr("font-size", "26.5px");
  var shiftBack = 0;
  p.title.forEach(function(part) {
    var ts = t.append("tspan").text(part[0]);
    var dy = part[1] == "sub" ? 4 : (part[1] == "sup" ? -9 : 0);
    if (part[1]) ts.attr("font-size", "16px");
    ts.attr("dy", dy - shiftBack);
    shiftBack = dy;
  });
});

svg.append("text")
  .attr("x", 740)
  .attr("y", 748)
  .attr("text-anchor", "middle")
  .attr("font-size", "24.5px")
  .text("Year");

</script>
